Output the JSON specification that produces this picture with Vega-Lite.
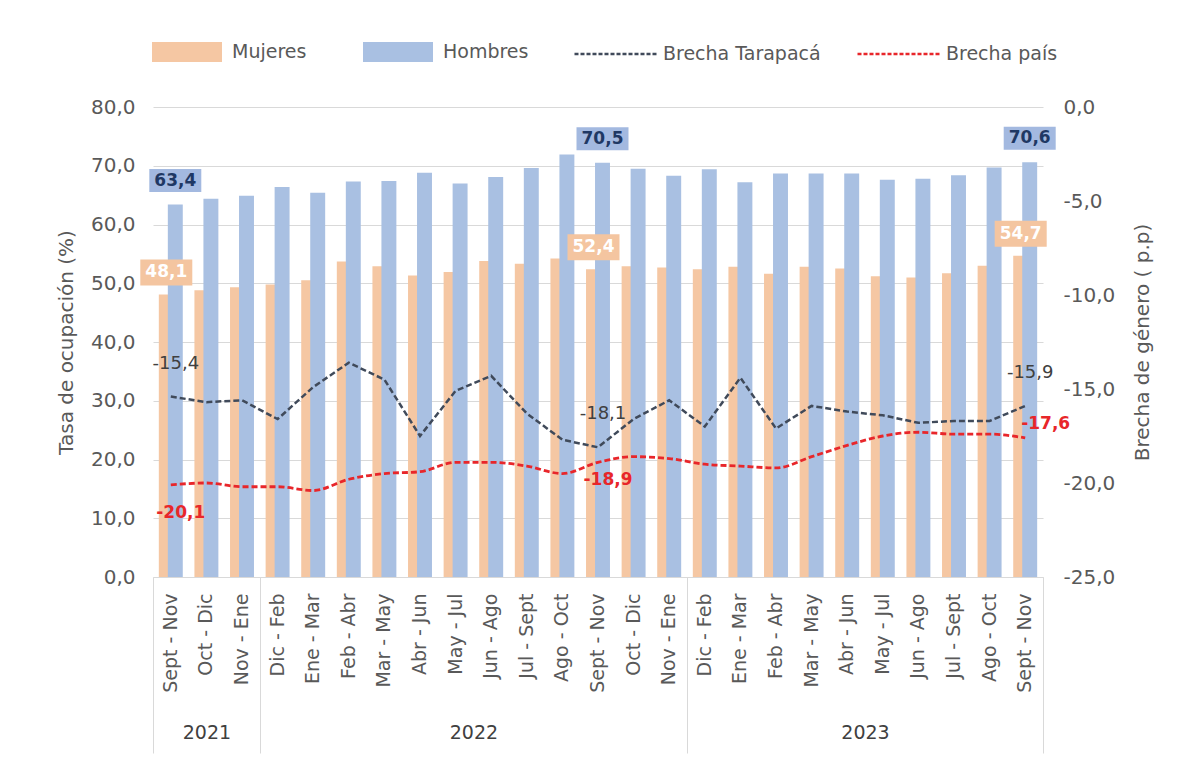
{
  "$schema": "https://vega.github.io/schema/vega-lite/v6.json",
  "width": 890,
  "height": 470,
  "autosize": {"type": "none"},
  "padding": {"left": 153, "top": 107, "right": 139, "bottom": 180},
  "background": "white",
  "config": {
    "locale": {"number": {"decimal": ",", "thousands": ".", "grouping": [3], "currency": ["", ""], "minus": "-"}},
    "view": {"stroke": null},
    "font": "DejaVu Sans",
    "axis": {"labelFont": "DejaVu Sans", "titleFont": "DejaVu Sans", "labelColor": "#595959", "titleColor": "#595959", "titleFontWeight": "normal"},
    "legend": {"labelFont": "DejaVu Sans", "labelColor": "#595959", "labelFontSize": 19}
  },
  "datasets": {
    "periodos": [
      {"id": "2021|Sept - Nov", "mujeres": 48.1, "hombres": 63.4, "tarapaca": -15.4, "pais": -20.1},
      {"id": "2021|Oct - Dic", "mujeres": 48.8, "hombres": 64.4, "tarapaca": -15.7, "pais": -20.0},
      {"id": "2021|Nov - Ene", "mujeres": 49.3, "hombres": 64.9, "tarapaca": -15.6, "pais": -20.2},
      {"id": "2022|Dic - Feb", "mujeres": 49.8, "hombres": 66.4, "tarapaca": -16.6, "pais": -20.2},
      {"id": "2022|Ene - Mar", "mujeres": 50.5, "hombres": 65.4, "tarapaca": -14.9, "pais": -20.4},
      {"id": "2022|Feb - Abr", "mujeres": 53.7, "hombres": 67.3, "tarapaca": -13.6, "pais": -19.8},
      {"id": "2022|Mar - May", "mujeres": 52.9, "hombres": 67.4, "tarapaca": -14.5, "pais": -19.5},
      {"id": "2022|Abr - Jun", "mujeres": 51.3, "hombres": 68.8, "tarapaca": -17.5, "pais": -19.4},
      {"id": "2022|May - Jul", "mujeres": 51.9, "hombres": 67.0, "tarapaca": -15.1, "pais": -18.9},
      {"id": "2022|Jun - Ago", "mujeres": 53.8, "hombres": 68.1, "tarapaca": -14.3, "pais": -18.9},
      {"id": "2022|Jul - Sept", "mujeres": 53.3, "hombres": 69.6, "tarapaca": -16.3, "pais": -19.1},
      {"id": "2022|Ago - Oct", "mujeres": 54.2, "hombres": 71.9, "tarapaca": -17.7, "pais": -19.5},
      {"id": "2022|Sept - Nov", "mujeres": 52.4, "hombres": 70.5, "tarapaca": -18.1, "pais": -18.9},
      {"id": "2022|Oct - Dic", "mujeres": 52.9, "hombres": 69.5, "tarapaca": -16.6, "pais": -18.6},
      {"id": "2022|Nov - Ene", "mujeres": 52.7, "hombres": 68.3, "tarapaca": -15.6, "pais": -18.7},
      {"id": "2023|Dic - Feb", "mujeres": 52.4, "hombres": 69.4, "tarapaca": -17.0, "pais": -19.0},
      {"id": "2023|Ene - Mar", "mujeres": 52.8, "hombres": 67.2, "tarapaca": -14.4, "pais": -19.1},
      {"id": "2023|Feb - Abr", "mujeres": 51.6, "hombres": 68.7, "tarapaca": -17.1, "pais": -19.2},
      {"id": "2023|Mar - May", "mujeres": 52.8, "hombres": 68.7, "tarapaca": -15.9, "pais": -18.6},
      {"id": "2023|Abr - Jun", "mujeres": 52.5, "hombres": 68.7, "tarapaca": -16.2, "pais": -18.0},
      {"id": "2023|May - Jul", "mujeres": 51.2, "hombres": 67.6, "tarapaca": -16.4, "pais": -17.5},
      {"id": "2023|Jun - Ago", "mujeres": 51.0, "hombres": 67.8, "tarapaca": -16.8, "pais": -17.3},
      {"id": "2023|Jul - Sept", "mujeres": 51.7, "hombres": 68.4, "tarapaca": -16.7, "pais": -17.4},
      {"id": "2023|Ago - Oct", "mujeres": 53.0, "hombres": 69.7, "tarapaca": -16.7, "pais": -17.4},
      {"id": "2023|Sept - Nov", "mujeres": 54.7, "hombres": 70.6, "tarapaca": -15.9, "pais": -17.6}
    ],
    "anios": [
      {"anio": "2021", "inicio": 0, "fin": 3},
      {"anio": "2022", "inicio": 3, "fin": 15},
      {"anio": "2023", "inicio": 15, "fin": 25}
    ]
  },
  "layer": [
    {
      "data": {"name": "periodos"},
      "encoding": {
        "x": {
          "field": "id", "type": "nominal", "sort": null,
          "scale": {"paddingInner": 0, "paddingOuter": 0},
          "axis": {"orient": "bottom", "title": null, "labelAngle": 270, "labelExpr": "split(datum.value, '|')[1]", "ticks": false, "labelPadding": 16, "labelFontSize": 19, "domainColor": "#D9D9D9", "labelLimit": 200}
        }
      },
      "layer": [
        {
          "encoding": {
            "y": {"type": "quantitative", "title": "Tasa de ocupación (%)", "scale": {"domain": [0, 80], "nice": false},
              "axis": {"orient": "left", "values": [0, 10, 20, 30, 40, 50, 60, 70, 80], "format": ".1f", "grid": true, "gridColor": "#D9D9D9", "domain": false, "ticks": false, "labelPadding": 18, "labelFontSize": 20, "titleFontSize": 20, "titlePadding": 14}}
          },
          "layer": [
            {
              "mark": {"type": "bar", "width": {"band": 0.42}, "xOffset": -4.5},
              "encoding": {
                "y": {"field": "mujeres"},
                "color": {"datum": "Mujeres", "scale": {"domain": ["Mujeres", "Hombres"], "range": ["#F5C7A3", "#A9C0E2"]},
                  "legend": {"orient": "none", "legendX": -1, "legendY": -90, "direction": "horizontal", "title": null, "symbolType": "M-1,-0.2857L1,-0.2857L1,0.2857L-1,0.2857Z", "symbolSize": 4900, "symbolStrokeWidth": 0, "labelOffset": 10, "columnPadding": 56}}
              }
            },
            {
              "mark": {"type": "bar", "width": {"band": 0.42}, "xOffset": 4.5},
              "encoding": {
                "y": {"field": "hombres"},
                "color": {"datum": "Hombres"}
              }
            },
            {
              "transform": [{"filter": {"field": "id", "oneOf": ["2021|Sept - Nov", "2022|Sept - Nov", "2023|Sept - Nov"]}}],
              "mark": {"type": "point", "shape": "M-1,-0.5L1,-0.5L1,0.5L-1,0.5Z", "size": 2704, "filled": true, "opacity": 1, "fill": "#F4C5A0", "strokeWidth": 0, "xOffset": -4.5, "yOffset": -22},
              "encoding": {"y": {"field": "mujeres"}}
            },
            {
              "transform": [{"filter": {"field": "id", "oneOf": ["2021|Sept - Nov", "2022|Sept - Nov", "2023|Sept - Nov"]}}],
              "mark": {"type": "text", "color": "white", "fontSize": 17, "fontWeight": "bold", "align": "center", "baseline": "middle", "xOffset": -4.5, "yOffset": -22},
              "encoding": {"y": {"field": "mujeres"}, "text": {"field": "mujeres", "format": ".1f"}}
            },
            {
              "transform": [{"filter": {"field": "id", "oneOf": ["2021|Sept - Nov", "2022|Sept - Nov", "2023|Sept - Nov"]}}],
              "mark": {"type": "point", "shape": "M-1,-0.44L1,-0.44L1,0.44L-1,0.44Z", "size": 2704, "filled": true, "opacity": 1, "fill": "#A3B9E0", "strokeWidth": 0, "xOffset": 4.5, "yOffset": -24},
              "encoding": {"y": {"field": "hombres"}}
            },
            {
              "transform": [{"filter": {"field": "id", "oneOf": ["2021|Sept - Nov", "2022|Sept - Nov", "2023|Sept - Nov"]}}],
              "mark": {"type": "text", "color": "#1F3864", "fontSize": 17, "fontWeight": "bold", "align": "center", "baseline": "middle", "xOffset": 4.5, "yOffset": -24},
              "encoding": {"y": {"field": "hombres"}, "text": {"field": "hombres", "format": ".1f"}}
            }
          ]
        },
        {
          "encoding": {
            "y": {"type": "quantitative", "title": "Brecha de género ( p.p)", "scale": {"domain": [-25, 0], "nice": false},
              "axis": {"orient": "right", "values": [-25, -20, -15, -10, -5, 0], "format": ".1f", "grid": false, "domain": false, "ticks": false, "labelPadding": 20, "labelFontSize": 20, "titleFontSize": 20, "titleAngle": 270, "titlePadding": 38}}
          },
          "layer": [
            {
              "mark": {"type": "line", "strokeDash": [6, 3], "strokeWidth": 2.5},
              "encoding": {
                "y": {"field": "tarapaca"},
                "color": {"datum": "Brecha Tarapacá", "scale": {"domain": ["Brecha Tarapacá", "Brecha país"], "range": ["#404A5A", "#E8262A"]},
                  "legend": {"orient": "none", "legendX": 420, "legendY": -96, "direction": "horizontal", "title": null, "symbolType": "stroke", "symbolSize": 6889, "symbolStrokeWidth": 2.5, "symbolDash": [4, 2], "labelOffset": 4, "columnPadding": 31}}
              }
            },
            {
              "mark": {"type": "line", "strokeDash": [6, 3], "strokeWidth": 2.8, "interpolate": "monotone"},
              "encoding": {
                "y": {"field": "pais"},
                "color": {"datum": "Brecha país"}
              }
            },
            {
              "transform": [{"filter": {"field": "id", "oneOf": ["2021|Sept - Nov", "2022|Sept - Nov", "2023|Sept - Nov"]}}],
              "mark": {"type": "text", "color": "#404040", "fontSize": 18, "align": "center", "baseline": "middle", "dx": 5, "dy": -33},
              "encoding": {"y": {"field": "tarapaca"}, "text": {"field": "tarapaca", "format": ".1f"}}
            },
            {
              "transform": [{"filter": {"field": "id", "equal": "2021|Sept - Nov"}}],
              "mark": {"type": "text", "color": "#E8262A", "fontSize": 17, "fontWeight": "bold", "align": "center", "baseline": "middle", "dx": 10, "dy": 28},
              "encoding": {"y": {"field": "pais"}, "text": {"field": "pais", "format": ".1f"}}
            },
            {
              "transform": [{"filter": {"field": "id", "equal": "2022|Sept - Nov"}}],
              "mark": {"type": "text", "color": "#E8262A", "fontSize": 17, "fontWeight": "bold", "align": "center", "baseline": "middle", "dx": 10, "dy": 18},
              "encoding": {"y": {"field": "pais"}, "text": {"field": "pais", "format": ".1f"}}
            },
            {
              "transform": [{"filter": {"field": "id", "equal": "2023|Sept - Nov"}}],
              "mark": {"type": "text", "color": "#E8262A", "fontSize": 17, "fontWeight": "bold", "align": "left", "baseline": "middle", "dx": -4, "dy": -14},
              "encoding": {"y": {"field": "pais"}, "text": {"field": "pais", "format": ".1f"}}
            }
          ]
        }
      ],
      "resolve": {"scale": {"y": "independent", "color": "independent"}}
    },
    {
      "data": {"name": "anios"},
      "mark": {"type": "rule", "opacity": 0},
      "encoding": {
        "x": {"field": "inicio", "type": "quantitative", "scale": {"domain": [0, 25], "nice": false, "zero": false},
          "axis": {"orient": "bottom", "values": [0, 3, 15, 25], "tickSize": 176, "tickColor": "#D9D9D9", "labels": false, "domain": false, "grid": false, "title": null}}
      }
    },
    {
      "data": {"name": "anios"},
      "transform": [{"calculate": "(datum.inicio + datum.fin) / 2", "as": "centro"}],
      "mark": {"type": "rule", "opacity": 0},
      "encoding": {
        "x": {"field": "centro", "type": "quantitative", "scale": {"domain": [0, 25], "nice": false, "zero": false},
          "axis": {"orient": "bottom", "values": [1.5, 9, 20], "labelExpr": "datum.value < 3 ? '2021' : (datum.value < 15 ? '2022' : '2023')", "ticks": false, "domain": false, "grid": false, "title": null, "labelPadding": 146, "labelFontSize": 19, "labelBaseline": "top", "labelColor": "#404040"}}
      }
    }
  ],
  "resolve": {"scale": {"x": "independent"}}
}
